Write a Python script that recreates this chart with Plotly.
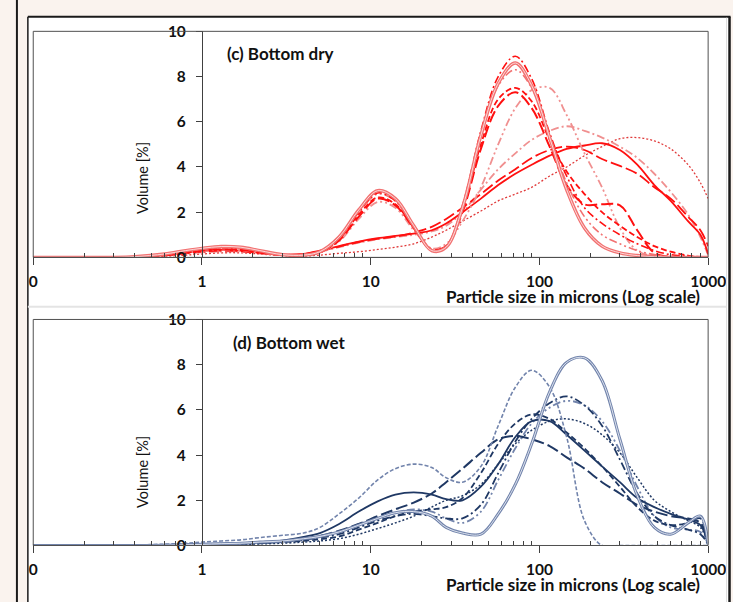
import plotly.graph_objects as go

# ---------------- data ----------------
size_um = [0.1, 0.2, 0.3, 0.4, 0.6, 0.8, 1.0, 1.3, 1.7, 2.2, 3.0, 4.0, 5.0, 6.5, 8.5,
           11, 14, 18, 23, 28, 35, 45, 57, 72, 90, 115, 145, 185, 235, 300, 380,
           480, 600, 760, 900, 1000]

tick_vals = [0.1, 1, 10, 100, 1000]
tick_text = ["0", "1", "10", "100", "1000"]
y_ticks = [0, 2, 4, 6, 8, 10]

# (c) Bottom dry
dry_a1 = [0, 0, 0, 0.03, 0.15, 0.3, 0.4, 0.48, 0.45, 0.3, 0.12, 0.1, 0.25, 0.9, 2.1,
          2.95, 2.6, 1.4, 0.3, 0.45, 2.2, 5.4, 7.7, 8.6, 7.6, 5.3, 3.0, 1.3, 0.5, 0.2, 0.08,
          0.03, 0, 0, 0, 0]
dry_a2 = [0, 0, 0, 0.03, 0.14, 0.28, 0.38, 0.45, 0.42, 0.28, 0.12, 0.1, 0.25, 0.85, 2.0,
          2.85, 2.5, 1.35, 0.3, 0.5, 2.3, 5.6, 8.0, 8.9, 7.9, 5.5, 3.6, 2.2, 1.5, 1.0, 0.6,
          0.3, 0.12, 0.05, 0.02, 0]
dry_a3 = [0, 0, 0, 0.02, 0.1, 0.2, 0.3, 0.36, 0.34, 0.22, 0.1, 0.1, 0.22, 0.75, 1.8,
          2.6, 2.3, 1.3, 0.35, 0.5, 2.0, 4.8, 6.7, 7.3, 6.6, 4.9, 3.2, 2.35, 2.35, 2.3, 1.2,
          0.2, 0.02, 0, 0, 0]
dry_a4 = [0, 0, 0, 0.02, 0.12, 0.22, 0.32, 0.38, 0.36, 0.24, 0.11, 0.1, 0.23, 0.8, 1.9,
          2.65, 2.35, 1.3, 0.32, 0.5, 2.1, 5.0, 7.0, 7.5, 6.9, 5.2, 3.8, 2.8, 2.0, 1.4, 0.9,
          0.5, 0.25, 0.08, 0.02, 0]
dry_a5 = [0, 0, 0, 0.03, 0.13, 0.26, 0.36, 0.42, 0.4, 0.26, 0.11, 0.1, 0.24, 0.85, 2.0,
          2.8, 2.5, 1.35, 0.3, 0.45, 2.2, 5.3, 7.6, 8.3, 7.5, 5.3, 3.3, 1.8, 1.0, 0.6, 0.3,
          0.12, 0.04, 0, 0, 0]
dry_p = [0, 0, 0, 0.02, 0.1, 0.2, 0.28, 0.34, 0.32, 0.2, 0.1, 0.1, 0.2, 0.7, 1.7,
         2.45, 2.2, 1.2, 0.4, 0.6, 1.6, 3.1, 5.0, 6.6, 7.4, 7.5, 6.3, 4.6, 3.1, 1.3, 0.3,
         0.06, 0, 0, 0, 0]
dry_b1 = [0, 0, 0, 0.02, 0.1, 0.2, 0.28, 0.33, 0.3, 0.2, 0.12, 0.15, 0.3, 0.5, 0.7,
          0.85, 0.95, 1.05, 1.2, 1.5, 2.0, 2.6, 3.2, 3.7, 4.1, 4.5, 4.8, 4.95, 5.05, 4.75, 4.1,
          3.2, 2.5, 1.6, 1.0, 0.15]
dry_b2 = [0, 0, 0, 0.02, 0.09, 0.18, 0.25, 0.3, 0.28, 0.19, 0.12, 0.14, 0.28, 0.48, 0.68,
          0.82, 0.92, 1.1, 1.35, 1.7, 2.2, 2.8, 3.4, 3.9, 4.4, 4.75, 4.9, 4.75, 4.35, 4.05, 3.7,
          3.1, 2.6, 1.8, 1.2, 0.5]
dry_b3 = [0, 0, 0, 0.01, 0.05, 0.1, 0.15, 0.2, 0.2, 0.15, 0.08, 0.06, 0.1, 0.18, 0.25,
          0.35, 0.45, 0.6, 0.9, 1.2, 1.6, 2.05, 2.5, 2.8, 3.1, 3.6, 4.0, 4.5, 4.9, 5.25, 5.3,
          5.15, 4.8, 4.1, 3.3, 2.6]
dry_b4 = [0, 0, 0, 0.02, 0.08, 0.16, 0.22, 0.26, 0.25, 0.17, 0.1, 0.12, 0.25, 0.45, 0.65,
          0.8, 0.9, 1.0, 1.15, 1.4, 2.0, 3.0, 3.9, 4.6, 5.2, 5.6, 5.8, 5.6, 5.3, 4.9, 4.4,
          3.7, 2.9, 1.9, 0.9, 0.1]

# (d) Bottom wet
wet_w1 = [0, 0, 0, 0.02, 0.06, 0.1, 0.15, 0.2, 0.25, 0.35, 0.45, 0.55, 0.8, 1.4, 2.1,
          2.9, 3.4, 3.6, 3.45, 3.0, 2.8, 3.5, 5.3, 7.0, 7.75, 7.0, 4.8, 1.1, 0, 0, 0,
          0, 0, 0, 0, 0]
wet_w2 = [0, 0, 0, 0, 0.01, 0.03, 0.05, 0.08, 0.1, 0.15, 0.2, 0.3, 0.4, 0.6, 0.9,
          1.2, 1.45, 1.5, 1.3, 0.8, 0.55, 0.5, 1.4, 2.7, 4.5, 6.8, 8.1, 8.3, 7.3, 4.7, 2.2,
          0.8, 0.5, 1.0, 1.3, 0.05]
wet_w3 = [0, 0, 0, 0, 0.02, 0.04, 0.06, 0.08, 0.1, 0.15, 0.22, 0.38, 0.55, 0.95, 1.5,
          1.95, 2.25, 2.35, 2.25, 2.05, 2.0, 2.6, 3.6, 4.8, 5.5, 5.5, 4.9, 4.2, 3.5, 2.8, 2.1,
          1.7, 1.4, 1.15, 0.9, 0.05]
wet_w4 = [0, 0, 0, 0, 0.02, 0.03, 0.05, 0.07, 0.09, 0.12, 0.2, 0.3, 0.42, 0.65, 0.95,
          1.3, 1.6, 1.9, 2.3, 2.8, 3.4, 4.1, 4.7, 4.85, 4.7, 4.4, 3.9, 3.4, 2.8, 2.3, 1.8,
          1.5, 1.3, 1.2, 1.0, 0.1]
wet_w5 = [0, 0, 0, 0, 0.01, 0.02, 0.04, 0.06, 0.08, 0.11, 0.17, 0.25, 0.35, 0.5, 0.8,
          1.1, 1.3, 1.4, 1.3, 1.2, 1.2, 1.8, 3.2, 4.6, 5.6, 6.3, 6.6, 6.2, 5.3, 3.8, 2.3,
          1.3, 0.9, 0.7, 0.5, 0.05]
wet_w6 = [0, 0, 0, 0, 0.01, 0.02, 0.03, 0.04, 0.05, 0.07, 0.1, 0.15, 0.2, 0.3, 0.5,
          0.75, 1.0, 1.3, 1.7, 2.0, 2.2, 2.7, 3.6, 4.5, 5.1, 5.5, 5.6, 5.4, 4.9, 4.1, 3.0,
          2.0, 1.5, 1.1, 0.8, 0.05]
wet_w7 = [0, 0, 0, 0, 0.02, 0.03, 0.05, 0.07, 0.09, 0.13, 0.2, 0.3, 0.42, 0.6, 0.95,
          1.2, 1.45, 1.6, 1.5, 1.2, 1.0, 1.5, 2.9, 4.3, 5.4, 6.1, 6.4, 6.2, 5.5, 4.2, 2.6,
          1.3, 0.8, 0.7, 0.6, 0.05]
wet_w8 = [0, 0, 0, 0, 0.01, 0.02, 0.04, 0.06, 0.08, 0.1, 0.15, 0.2, 0.28, 0.4, 0.7,
          1.0, 1.3, 1.5, 1.6, 1.7, 2.1, 3.2, 4.5, 5.4, 5.8, 5.6, 5.0, 4.3, 3.5, 2.6, 1.7,
          1.1, 0.9, 1.0, 1.2, 0.1]

# ---------------- styles ----------------
RED = "#FF1010"
LRED = "#F27272"
PINK = "#F09090"
DRED = "#E03A3A"
NAVY = "#1F3864"
GBLUE = "#7284AC"

DASH = "6px,3px"
LDASH = "12px,4px"
DASHDOT = "8px,3px,2px,3px"
DASHDOTDOT = "8px,3px,2px,3px,2px,3px"
DOT = "2px,2px"

dry_series = [
    (dry_b3, DRED, DOT, 1.3),
    (dry_b4, PINK, DASHDOT, 1.8),
    (dry_b2, RED, LDASH, 1.8),
    (dry_b1, RED, "solid", 1.8),
    (dry_p, PINK, DASHDOTDOT, 1.8),
    (dry_a3, RED, LDASH, 2.0),
    (dry_a4, RED, DASH, 1.8),
    (dry_a5, LRED, DASHDOTDOT, 1.6),
    (dry_a2, RED, DASHDOT, 1.6),
]
wet_series = [
    (wet_w6, NAVY, DOT, 1.5),
    (wet_w7, GBLUE, DASHDOTDOT, 1.8),
    (wet_w5, NAVY, DASHDOT, 1.8),
    (wet_w8, NAVY, DASH, 1.8),
    (wet_w4, NAVY, LDASH, 2.0),
    (wet_w3, NAVY, "solid", 1.8),
    (wet_w1, GBLUE, "4px,2px", 1.6),
]

# picture frame (reference pixels) and page width that maps onto it
W, H = 733, 602
PAGE_W = 751


def fx(p):
    return p / W


def fy(p):
    return 1 - p / H


fig = go.Figure()


def add(vals, color, dash, width, xa, ya):
    fig.add_trace(go.Scatter(
        x=size_um, y=vals, mode="lines", xaxis=xa, yaxis=ya,
        line=dict(color=color, dash=dash, width=width, shape="spline", smoothing=1.0),
        showlegend=False, hoverinfo="skip"))


for vals, c, d, w in dry_series:
    add(vals, c, d, w, "x", "y")
# double solid line (light)
add(dry_a1, LRED, "solid", 3.4, "x", "y")
add(dry_a1, "#FBD9D9", "solid", 1.0, "x", "y")

for vals, c, d, w in wet_series:
    add(vals, c, d, w, "x2", "y2")
add(wet_w2, GBLUE, "solid", 3.0, "x2", "y2")
add(wet_w2, "#E9EDF5", "solid", 0.9, "x2", "y2")

x_left, x_right = 29.4, 708.0
yaxis_pos = fx(x_left + (x_right - x_left) / 4.0)
minor_vals = [m * 10 ** e for e in range(-1, 3) for m in range(2, 10)]

AX = "#404040"
FONT = "Lato"


def xaxis_cfg(anchor):
    return dict(
        type="log", range=[-1, 3], domain=[fx(x_left), fx(x_right)], anchor=anchor,
        tickmode="array", tickvals=tick_vals, ticktext=tick_text,
        ticks="outside", ticklen=7, tickcolor=AX, tickwidth=1,
        showline=True, linecolor=AX, linewidth=1, showgrid=False, zeroline=False,
        tickfont=dict(family=FONT, size=15.5, color="#111111", weight="bold"),
        ticklabelstandoff=3,
        minor=dict(tickmode="array", tickvals=minor_vals, ticks="inside", ticklen=4,
                   tickcolor=AX, showgrid=False),
    )


def yaxis_cfg(top_px, bot_px):
    return dict(
        range=[0, 10], domain=[fy(bot_px), fy(top_px)], anchor="free", position=yaxis_pos,
        tickmode="array", tickvals=y_ticks, ticks="outside", ticklen=6, tickcolor=AX,
        showline=True, linecolor=AX, linewidth=1, showgrid=False, zeroline=False,
        tickfont=dict(family=FONT, size=15.5, color="#111111", weight="bold"),
        ticklabelstandoff=7,
    )


CREAM = "#FAF3EE"
shapes = [
    dict(type="rect", xref="paper", yref="paper", x0=fx(24), x1=fx(729.5), y0=-0.05, y1=fy(7),
         fillcolor="white", line=dict(width=0), layer="below"),
    dict(type="line", xref="paper", yref="paper", x0=fx(13), x1=fx(13), y0=-0.05, y1=1.05,
         line=dict(color="#1A1A1A", width=2)),
    dict(type="line", xref="paper", yref="paper", x0=fx(24), x1=fx(24), y0=-0.05, y1=fy(7),
         line=dict(color="#1A1A1A", width=1.5)),
    dict(type="line", xref="paper", yref="paper", x0=fx(24), x1=fx(730.5), y0=fy(7), y1=fy(7),
         line=dict(color="#1A1A1A", width=2)),
    dict(type="line", xref="paper", yref="paper", x0=fx(729.5), x1=fx(729.5), y0=-0.05, y1=fy(7),
         line=dict(color="#1A1A1A", width=2.5)),
    dict(type="line", xref="paper", yref="paper", x0=fx(726.5), x1=fx(726.5), y0=-0.05, y1=fy(8),
         line=dict(color="#DDDDDD", width=1)),
    dict(type="line", xref="paper", yref="paper", x0=fx(24), x1=fx(726), y0=fy(306), y1=fy(306),
         line=dict(color="#E4E4E4", width=2)),
    dict(type="rect", xref="x domain", yref="y domain", x0=0, x1=1, y0=0, y1=1,
         line=dict(color="#505050", width=1)),
    dict(type="rect", xref="x2 domain", yref="y2 domain", x0=0, x1=1, y0=0, y1=1,
         line=dict(color="#505050", width=1)),
]

TXT = "#111111"
annotations = [
    dict(text="(c) Bottom dry", x=fx(222), y=fy(45), xref="paper", yref="paper",
         xanchor="left", yanchor="middle", showarrow=False,
         font=dict(family=FONT, size=17, color=TXT, weight="bold")),
    dict(text="(d) Bottom wet", x=fx(228), y=fy(343), xref="paper", yref="paper",
         xanchor="left", yanchor="middle", showarrow=False,
         font=dict(family=FONT, size=17, color=TXT, weight="bold")),
    dict(text="Volume [%]", x=fx(140), y=fy(173), xref="paper", yref="paper",
         xanchor="center", yanchor="middle", showarrow=False, textangle=-90,
         font=dict(family=FONT, size=14.5, color=TXT)),
    dict(text="Volume [%]", x=fx(140), y=fy(476), xref="paper", yref="paper",
         xanchor="center", yanchor="middle", showarrow=False, textangle=-90,
         font=dict(family=FONT, size=14.5, color=TXT)),
    dict(text="Particle size in microns (Log scale)", x=fx(572), y=fy(295), xref="paper",
         yref="paper", xanchor="center", yanchor="middle", showarrow=False,
         font=dict(family=FONT, size=17, color=TXT, weight="bold")),
    dict(text="Particle size in microns (Log scale)", x=fx(572), y=fy(592), xref="paper",
         yref="paper", xanchor="center", yanchor="middle", showarrow=False,
         font=dict(family=FONT, size=17, color=TXT, weight="bold")),
]

fig.update_layout(
    width=PAGE_W, height=H, margin=dict(l=0, r=0, t=0, b=0, pad=0),
    paper_bgcolor=CREAM, plot_bgcolor="white",
    xaxis=xaxis_cfg("y"), yaxis=yaxis_cfg(22, 255),
    xaxis2=xaxis_cfg("y2"), yaxis2=yaxis_cfg(319, 552),
    shapes=shapes, annotations=annotations, showlegend=False,
)

page_fix = ("document.documentElement.style.margin='0';document.body.style.margin='0';"
            "document.documentElement.style.overflow='hidden';document.body.style.overflow='hidden';")
fig.write_html("out.html", config={"displayModeBar": False}, post_script=page_fix)
